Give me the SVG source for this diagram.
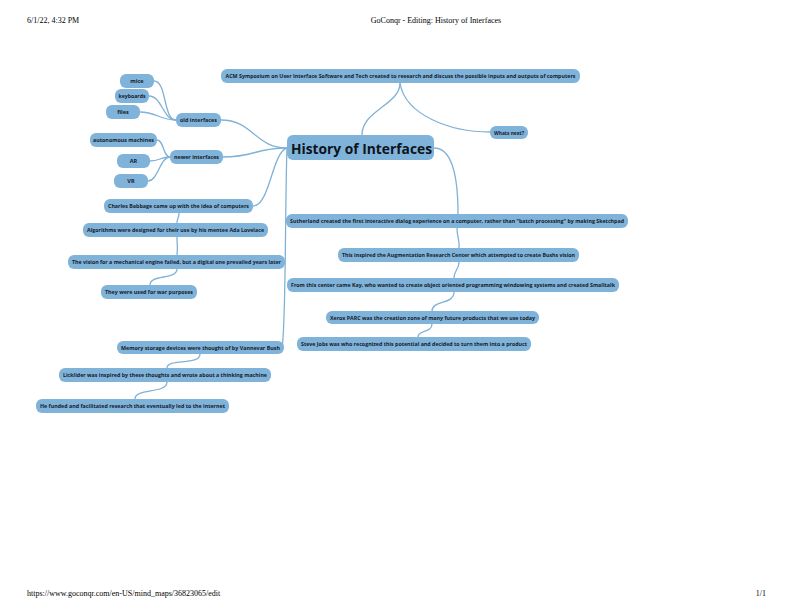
<svg xmlns="http://www.w3.org/2000/svg" width="792" height="612" viewBox="0 0 792 612">
<style>
.page{font-family:"Liberation Serif",serif;font-size:8px;fill:#000}
.n rect{fill:#80b3d9;rx:6px}
.n text{font-family:"Open Sans","Liberation Sans",sans-serif;font-weight:700;font-size:5.6px;fill:#16202b;text-anchor:middle;dominant-baseline:central}
.t text{font-weight:700;font-size:14px;fill:#0d141c}
.c path{fill:none;stroke:#80b2d6;stroke-width:1.3}
</style>
<rect width="792" height="612" fill="#fff"/>
<text class="page" x="27" y="23">6/1/22, 4:32 PM</text>
<text class="page" x="436" y="23" text-anchor="middle">GoConqr - Editing: History of Interfaces</text>
<text class="page" x="27" y="596">https://www.goconqr.com/en-US/mind_maps/36823065/edit</text>
<text class="page" x="766" y="596" text-anchor="end">1/1</text>
<g id="connectors" class="c">
<path d="M287,148 C255,148 253,120 221,120"/>
<path d="M287,148 C255,148 255,157 223,157"/>
<path d="M287,148 C272,152 270,206 253,206"/>
<path d="M287,148 C285,200 286,330 282,347"/>
<path d="M362,135 C362,110 400,105 400,83"/>
<path d="M400,83 C405,115 450,132 490,132"/>
<path d="M434,148 C450,148 458,170 458,214"/>
<path d="M457,228 C457,238 460,240 459,248"/>
<path d="M459,262 C459,270 454,270 454,278"/>
<path d="M454,292 C454,305 432,300 432,311"/>
<path d="M432,324 C432,333 418,330 418,337"/>
<path d="M179,213 C179,218 177,218 177,223"/>
<path d="M177,237 C177,248 178,245 177,255"/>
<path d="M177,269 C177,280 150,274 150,285"/>
<path d="M200,354 C200,366 167,358 167,368"/>
<path d="M167,382 C167,394 135,388 135,399"/>
<path d="M176,120 C163,120 167,81 154,81"/>
<path d="M176,120 C163,120 162,96 149,96"/>
<path d="M176,120 C160,120 156,112 140,112"/>
<path d="M170,157 C163,157 164,140 157,140"/>
<path d="M170,157 C160,157 160,161 150,161"/>
<path d="M170,157 C160,157 158,181 148,181"/>
</g>
<g id="title" class="n t"><rect x="287" y="135" width="147" height="25" rx="6"/><text x="361.5" y="148" textLength="141" lengthAdjust="spacingAndGlyphs">History of Interfaces</text></g>
<g id="acm" class="n"><rect x="221" y="69" width="359" height="14"/><text x="400.5" y="76" textLength="350" lengthAdjust="spacingAndGlyphs">ACM Symposium on User Interface Software and Tech created to research and discuss the possible inputs and outputs of computers</text></g>
<g id="whatsnext" class="n"><rect x="490" y="126" width="38" height="13"/><text x="509" y="132.5" textLength="30" lengthAdjust="spacingAndGlyphs">Whats next?</text></g>
<g id="old" class="n"><rect x="176" y="113" width="45" height="14"/><text x="198.5" y="120" textLength="37" lengthAdjust="spacingAndGlyphs">old interfaces</text></g>
<g id="mice" class="n"><rect x="120" y="74" width="34" height="14"/><text x="137" y="81">mice</text></g>
<g id="keyboards" class="n"><rect x="115" y="89" width="34" height="14"/><text x="132" y="96" textLength="27" lengthAdjust="spacingAndGlyphs">keyboards</text></g>
<g id="files" class="n"><rect x="106" y="105" width="34" height="14"/><text x="123" y="112">files</text></g>
<g id="newer" class="n"><rect x="170" y="150" width="53" height="14"/><text x="196.5" y="157" textLength="45" lengthAdjust="spacingAndGlyphs">newer interfaces</text></g>
<g id="autonomous" class="n"><rect x="90" y="133" width="67" height="14"/><text x="123.5" y="140" textLength="61" lengthAdjust="spacingAndGlyphs">autonomous machines</text></g>
<g id="ar" class="n"><rect x="117" y="154" width="33" height="14"/><text x="133.5" y="161">AR</text></g>
<g id="vr" class="n"><rect x="114" y="174" width="34" height="14"/><text x="131" y="181">VR</text></g>
<g id="babbage" class="n"><rect x="104" y="199" width="149" height="14"/><text x="178.5" y="206" textLength="141" lengthAdjust="spacingAndGlyphs">Charles Babbage came up with the idea of computers</text></g>
<g id="algorithms" class="n"><rect x="83" y="223" width="185" height="14"/><text x="175.5" y="230" textLength="177" lengthAdjust="spacingAndGlyphs">Algorithms were designed for their use by his mentee Ada Lovelace</text></g>
<g id="vision" class="n"><rect x="68" y="255" width="217" height="14"/><text x="176.5" y="262" textLength="209" lengthAdjust="spacingAndGlyphs">The vision for a mechanical engine failed, but a digital one prevailed years later</text></g>
<g id="war" class="n"><rect x="101" y="285" width="96" height="14"/><text x="149" y="292" textLength="88" lengthAdjust="spacingAndGlyphs">They were used for war purposes</text></g>
<g id="sutherland" class="n"><rect x="286" y="214" width="342" height="14"/><text x="457" y="221" textLength="334" lengthAdjust="spacingAndGlyphs">Sutherland created the first interactive dialog experience on a computer, rather than "batch processing" by making Sketchpad</text></g>
<g id="augmentation" class="n"><rect x="338" y="248" width="241" height="14"/><text x="458.5" y="255" textLength="233" lengthAdjust="spacingAndGlyphs">This inspired the Augmentation Research Center which attempted to create Bushs vision</text></g>
<g id="kay" class="n"><rect x="287" y="278" width="332" height="14"/><text x="453" y="285" textLength="324" lengthAdjust="spacingAndGlyphs">From this center came Kay, who wanted to create object oriented programming windowing systems and created Smalltalk</text></g>
<g id="xerox" class="n"><rect x="326" y="311" width="213" height="13"/><text x="432.5" y="317.5" textLength="205" lengthAdjust="spacingAndGlyphs">Xerox PARC was the creation zone of many future products that we use today</text></g>
<g id="jobs" class="n"><rect x="297" y="337" width="234" height="14"/><text x="414" y="344" textLength="226" lengthAdjust="spacingAndGlyphs">Steve Jobs was who recognized this potential and decided to turn them into a product</text></g>
<g id="memory" class="n"><rect x="117" y="341" width="167" height="13"/><text x="200.5" y="347.5" textLength="159" lengthAdjust="spacingAndGlyphs">Memory storage devices were thought of by Vannevar Bush</text></g>
<g id="licklider" class="n"><rect x="59" y="368" width="212" height="14"/><text x="165" y="375" textLength="204" lengthAdjust="spacingAndGlyphs">Licklider was inspired by these thoughts and wrote about a thinking machine</text></g>
<g id="funded" class="n"><rect x="36" y="399" width="193" height="14"/><text x="132.5" y="406" textLength="185" lengthAdjust="spacingAndGlyphs">He funded and facilitated research that eventually led to the internet</text></g>
</svg>
